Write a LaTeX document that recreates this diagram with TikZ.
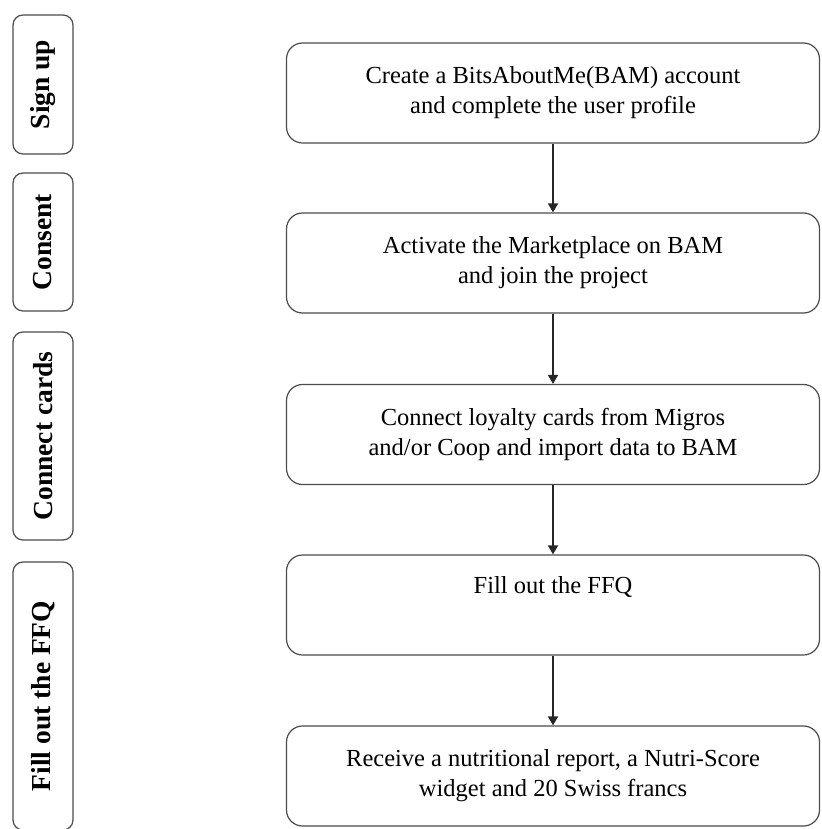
\documentclass[tikz,border=0pt]{standalone}
\usepackage{fontspec}
\setmainfont{Liberation Serif}
\usetikzlibrary{arrows.meta}
\tikzset{
	stage/.style={draw=black!70,line width=1.2pt,rounded corners=10pt,rotate=90,minimum height=60pt,inner sep=0pt,font=\fontsize{27.5}{30}\selectfont\bfseries},
	task/.style={draw=black!70,line width=1.2pt,rounded corners=16pt,minimum width=533pt,minimum height=100pt,inner sep=0pt,align=center,font=\fontsize{24.5}{30}\selectfont},
	flow/.style={draw=black!85,line width=1.8pt,-{Triangle[width=10pt,length=9pt]}}
}

\begin{document}
\begin{tikzpicture}[x=1pt,y=-1pt]
	\useasboundingbox (0,0) rectangle (821,829);

	\node [stage,minimum width=139pt] (signup) at (43,84.5) {Sign up};
	\node [stage,minimum width=138pt] (consent) at (43,242) {Consent};
	\node [stage,minimum width=208pt] (cards) at (43,436) {Connect cards};
	\node [stage,minimum width=268pt] (ffq) at (43,696) {Fill out the FFQ};

	\node [task] (create) at (553,93) {Create a BitsAboutMe(BAM) account\\and complete the user profile};
	\node [task] (activate) at (553,263) {Activate the Marketplace on BAM\\and join the project};
	\node [task] (connect) at (553,434.5) {Connect loyalty cards from Migros\\and/or Coop and import data to BAM};
	\node [task,text depth=41pt] (fill) at (553,605) {Fill out the FFQ};
	\node [task] (receive) at (553,776) {Receive a nutritional report, a Nutri-Score\\widget and 20 Swiss francs};

	\draw [flow] (create) -- (activate);
	\draw [flow] (activate) -- (connect);
	\draw [flow] (connect) -- (fill);
	\draw [flow] (fill) -- (receive);
\end{tikzpicture}
\end{document}
